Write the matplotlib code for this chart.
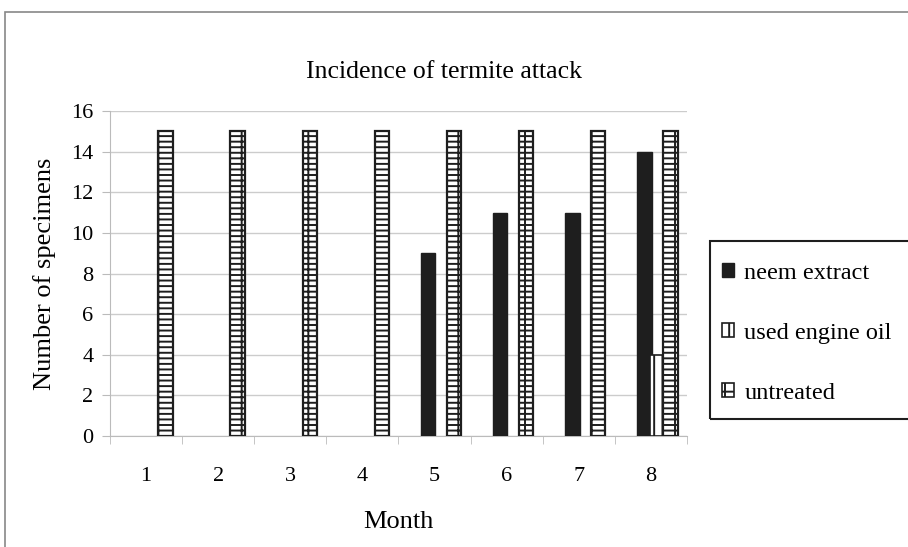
import numpy as np
import matplotlib
matplotlib.use("Agg")
import matplotlib.pyplot as plt
from matplotlib.patches import Rectangle, Patch

plt.rcParams["font.family"] = ["Liberation Serif", "DejaVu Serif"]
plt.rcParams["hatch.linewidth"] = 1.4

months = ["1", "2", "3", "4", "5", "6", "7", "8"]
neem = [0, 0, 0, 0, 9, 11, 11, 14]
oil = [0, 0, 0, 0, 0, 0, 0, 4]
untreated = [15, 15, 15, 15, 15, 15, 15, 15]
labels = ["neem extract", "used engine oil", "untreated"]
yticks = [0, 2, 4, 6, 8, 10, 12, 14, 16]


def nonzero(vals):
    # zero-height bars are not drawn in the original
    vals = np.asarray(vals, dtype=float)
    return np.where(vals > 0, vals, np.nan)


fig = plt.figure(figsize=(9.08, 5.47), dpi=100)
ax = fig.add_axes([0.1211, 0.2029, 0.6355, 0.5941])

x = np.arange(len(months))
w = 0.2
ax.bar(x - 0.09, nonzero(neem), w, color="#1e1e1e", edgecolor="#1e1e1e",
       zorder=3)
ax.bar(x + 0.09, nonzero(oil), w, color="white", edgecolor="#1e1e1e",
       hatch="||", linewidth=1.2, zorder=3)
ax.bar(x + 0.27, nonzero(untreated), w, color="white", edgecolor="#1e1e1e",
       hatch="---|", linewidth=1.6, zorder=4)

ax.set_xlim(-0.5, len(months) - 0.5)
ax.set_ylim(0, 16)
ax.set_yticks(yticks)
ax.set_yticklabels([str(v) for v in yticks], fontsize=16)
ax.set_xticks(x)
ax.set_xticklabels(months, fontsize=16)
ax.set_xticks(np.arange(-0.5, len(months)), minor=True)
ax.tick_params(axis="x", which="major", length=0, pad=22)
ax.tick_params(axis="x", which="minor", length=6, color="#bbbbbb")
ax.tick_params(axis="y", length=6, color="#bbbbbb", pad=6)
ax.grid(axis="y", color="#cccccc", linewidth=1, zorder=0)
for side in ["top", "right"]:
    ax.spines[side].set_visible(False)
for side in ["left", "bottom"]:
    ax.spines[side].set_color("#bbbbbb")

ax.set_xlabel("Month", fontsize=19, labelpad=18)
ax.set_ylabel("Number of specimens", fontsize=19, labelpad=11)
fig.text(0.489, 0.868, "Incidence of termite attack", fontsize=18.5,
         ha="center", va="center")

# outer chart frame
fig.patches.append(Rectangle((5 / 908, -0.1), 1.2, 0.1 + (547 - 12) / 547,
                             transform=fig.transFigure, fill=False,
                             edgecolor="#888888", linewidth=1.2))
# legend frame
fig.patches.append(Rectangle((710 / 908, (547 - 419) / 547), 0.3, 178 / 547,
                             transform=fig.transFigure, fill=False,
                             edgecolor="#1e1e1e", linewidth=1.5))

handles = [
    Patch(facecolor="#1e1e1e", edgecolor="#1e1e1e"),
    Patch(facecolor="white", edgecolor="#1e1e1e", hatch="||", linewidth=1.2),
    Patch(facecolor="white", edgecolor="#1e1e1e", hatch="-|", linewidth=1.2),
]
fig.legend(handles, labels, loc="upper left",
           bbox_to_anchor=(722 / 908, (547 - 263) / 547),
           frameon=False, fontsize=17.5, handlelength=0.5, handleheight=0.5,
           handletextpad=0.42, labelspacing=1.6, borderaxespad=0, borderpad=0)

fig.savefig("out.png", dpi=100)
